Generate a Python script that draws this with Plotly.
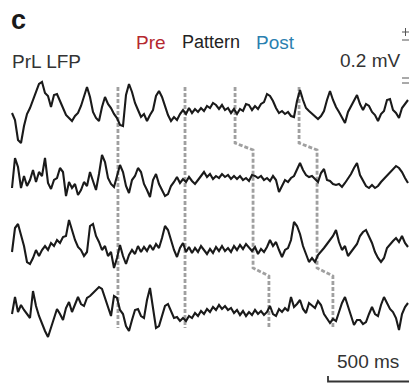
import numpy as np
import plotly.graph_objects as go

# ---- data (µV, relative to each trace's baseline), sampled every dt ms ----
dt_ms = 1000 / 54.0
trace1_uv = [-20, -48, -128, -140, -72, -24, 0, 32, 64, 96, 104, 60, 48, 4, 52, 56, 28, 0, -28, -40,
             -52, -32, -20, 8, 44, 84, 44, -16, -40, -52, 4, 44, 16, 0, -24, -40, -68, -72, 52, 96,
             64, 20, -8, -36, -24, -52, -28, -8, 48, 68, 44, 4, -28, -52, -36, -48, -24, -8, -24, 0,
             -20, -4, -16, 0, -12, 8, 0, 20, 12, -4, 12, -8, 0, -20, -4, -24, -4, -12, 16, 12,
             -8, 8, -4, 16, 24, 56, 48, 28, 0, -20, -12, -24, -16, -32, -36, 28, 72, 32, 0, -12,
             -24, -32, -44, -32, -12, 32, 68, 32, 4, -16, -36, -60, -16, 8, 32, 52, 16, -8, 16, 8,
             -16, -28, -52, -24, -12, 32, 36, -8, -20, -40, 0, 16, 32]
trace2_uv = [-40, 80, 44, -40, 8, -32, -8, 32, -16, 24, 8, 80, -20, -44, -8, 0, 40, 24, -72, -16,
             -40, -24, -68, -48, -16, -32, 24, -8, -48, 16, 92, 64, 0, -24, -36, 8, 52, 24, -32, -60,
             -8, 8, 40, 24, -24, -48, -76, -8, 16, -24, -48, -72, -64, -32, -16, 4, -20, -4, -16, 4,
             -12, -24, -8, 8, 24, 4, 16, -4, 8, 0, 16, 4, 12, -4, 8, -4, 8, -8, 0, -12,
             12, 8, 0, 8, -8, 0, -12, 8, -8, -56, -32, -8, -16, 0, 8, 32, 60, 32, 12, 4,
             8, -4, -16, 20, 36, -8, -12, -24, -28, -24, -36, -20, -4, 16, 40, 60, 12, -12, -32, -40,
             -28, -40, -32, -16, -4, 8, 20, 32, 48, 40, 24, 0, -20]
trace3_uv = [-16, 80, 96, 56, 8, -56, -64, -40, -8, -32, -8, 8, -8, 20, 8, 32, 20, 44, 48, 112,
             72, 32, 4, -8, -32, -16, 88, 96, 48, 24, -8, 8, -32, -16, -80, -40, 12, -32, -64, -28,
             -8, -24, 8, -16, 4, -12, 12, -8, 16, 0, 40, 88, 72, 32, -8, -36, 0, 20, -16, 4,
             -20, 0, -16, 8, -8, -24, -4, -20, 4, -12, 8, -12, 0, -16, 8, -8, 12, -4, 16, 0,
             -12, 4, -24, -4, -16, 4, 32, 8, 24, -8, -36, -8, 0, 32, 104, 88, 56, 8, -24, -56,
             -40, -56, -28, -16, 0, 16, 32, 48, 72, 24, -8, 8, -32, -16, 0, 16, 48, 64, 72, 48,
             20, -16, -40, -56, -40, 0, 16, 28, 40, 24, 48, 20, 4]
trace4_uv = [-16, 52, -8, 20, 0, -16, -32, 76, 16, -24, -56, -84, -108, -72, -40, 4, -16, -40, 8, 32,
             -8, 20, 52, 24, 16, 48, 56, 68, 80, 92, 84, 48, 12, -24, 56, 48, 0, -16, -64, -84,
             -40, 0, 4, -24, -32, 40, 88, 8, -72, -64, -24, 16, 24, -8, -32, -28, -44, -32, -44, -24,
             -32, -12, -24, -4, -16, 4, -8, 12, 0, 20, 4, 16, 0, 8, -12, 0, -20, -4, -24, -8,
             -20, 0, -16, -4, -20, -8, 16, -16, -24, 4, -8, 8, -4, 52, 12, 24, 40, 4, -12, 28,
             16, 8, 36, 20, -16, -32, -52, -36, -44, -8, 28, 52, 16, -24, -60, -40, -40, -56, -48, -16,
             12, -16, -24, 20, 52, 28, 4, -8, -32, -80, -16, 12, 28]
traces_uv = [trace1_uv, trace2_uv, trace3_uv, trace4_uv]

# event marker times (ms) per trace row
marker_a_ms = [654, 654, 654, 654]
marker_b_ms = [1068, 1068, 1068, 1068]
marker_c_ms = [1377, 1488, 1488, 1586]
marker_d_ms = [1772, 1883, 1883, 1981]

scale_time_ms = 500
scale_volt_uv = 200

# ---- layout helpers (pixel geometry) ----
W, H = 409, 383
ms_per_px = 500 / 81.0
uv_per_px = 4.0
x0_px = 12


def px2x(px):
    return (px - x0_px) * ms_per_px


def py2y(py):
    return -py * uv_per_px


baselines_px = [108, 178, 248, 310]

fig = go.Figure()

seg_top = [87, 150, 150, 276]
seg_bot = [143, 268, 268, 328]
for times in [marker_a_ms, marker_b_ms, marker_c_ms, marker_d_ms]:
    if len(set(times)) == 1:
        xs = [times[0], times[0]]
        ys = [py2y(87), py2y(328)]
    else:
        xs, ys = [], []
        for r in range(4):
            if r > 0 and times[r] == times[r - 1]:
                ys[-1] = py2y(seg_bot[r])
                continue
            xs += [times[r], times[r]]
            ys += [py2y(seg_top[r] if r > 0 else 87), py2y(seg_bot[r])]
    fig.add_trace(go.Scatter(x=xs, y=ys, mode="lines",
                             line=dict(color="#a0a0a0", width=2.8, dash="4px,2px"),
                             hoverinfo="skip", showlegend=False))

for vals, base in zip(traces_uv, baselines_px):
    t = np.arange(len(vals)) * dt_ms
    y = py2y(base) + np.array(vals, dtype=float)
    fig.add_trace(go.Scatter(x=t, y=y, mode="lines",
                             line=dict(color="#1a1a1a", width=2.1),
                             hoverinfo="skip", showlegend=False))

# horizontal scale bar (500 ms)
xr_end = px2x(W)
fig.add_trace(go.Scatter(x=[xr_end - scale_time_ms, xr_end - scale_time_ms, xr_end],
                         y=[py2y(376), py2y(381.5), py2y(381.5)], mode="lines",
                         line=dict(color="#333333", width=1.8), hoverinfo="skip", showlegend=False))


def hseg(x1, x2, py):
    fig.add_shape(type="line", xref="paper", yref="paper", x0=x1 / W, x1=x2 / W,
                  y0=1 - py / H, y1=1 - py / H, line=dict(color="#555555", width=1))

hseg(402, 409, 32)
hseg(402, 409, 40)
hseg(402, 409, 78)
hseg(402, 409, 83)
fig.add_shape(type="line", xref="paper", yref="paper", x0=405.5 / W, x1=405.5 / W,
              y0=1 - 28 / H, y1=1 - 36 / H, line=dict(color="#555555", width=1))

FONT = "Liberation Sans, Arial, sans-serif"


def label(text, px, py, size, color, xanchor="left", bold=False):
    fig.add_annotation(x=px / W, y=1 - py / H, xref="paper", yref="paper",
                       text=f"<b>{text}</b>" if bold else text, showarrow=False,
                       xanchor=xanchor, yanchor="middle",
                       font=dict(family=FONT, size=size, color=color))


label("c", 9, 20, 27, "#1a1a1a", bold=True)
label("PrL LFP", 10, 61, 19, "#333333")
label("Pre", 151, 42, 19, "#b5282e", xanchor="center")
label("Pattern", 211, 42, 18, "#222222", xanchor="center")
label("Post", 275, 42, 19, "#2b7fb0", xanchor="center")
label("0.2 mV", 403, 60, 19, "#333333", xanchor="right")
label("500 ms", 368, 361, 19, "#333333", xanchor="center")

fig.update_layout(
    width=W, height=H, margin=dict(l=0, r=0, t=0, b=0),
    paper_bgcolor="white", plot_bgcolor="white",
    xaxis=dict(range=[px2x(0), px2x(W)], visible=False, fixedrange=True),
    yaxis=dict(range=[py2y(H), py2y(0)], visible=False, fixedrange=True),
    showlegend=False,
)

fig.write_html("out.html")
